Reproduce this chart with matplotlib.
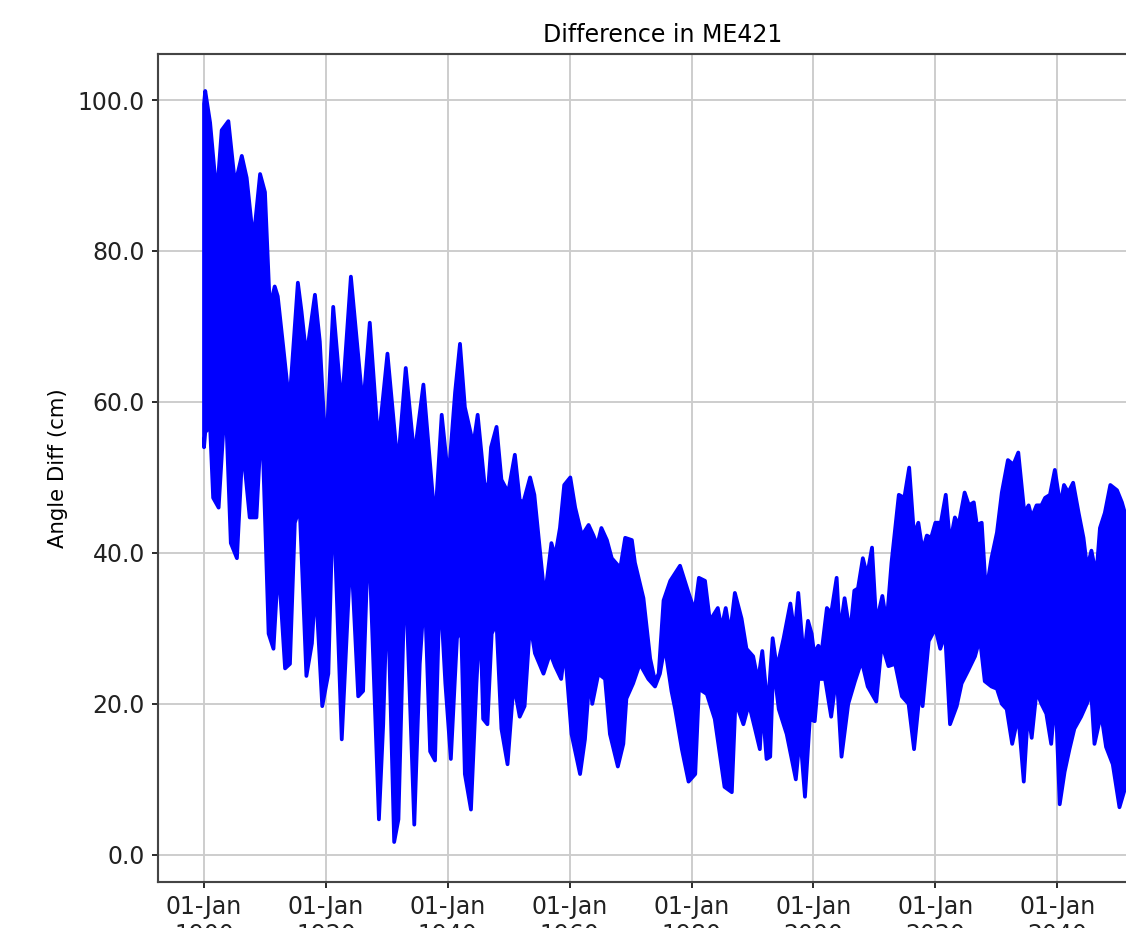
from datetime import datetime, timedelta

import matplotlib

matplotlib.use("Agg")
import matplotlib.dates as mdates
import matplotlib.pyplot as plt

# Envelope of the (densely oscillating) difference series.
upper_year = [
    1900.0, 1900.2, 1901.0, 1902.1, 1902.9, 1904.0, 1905.1, 1906.2, 1907.0, 1908.1,
    1909.2, 1910.0, 1910.8, 1911.6, 1912.1, 1913.0, 1914.0, 1915.4, 1916.0, 1916.8,
    1918.2, 1919.0, 1920.0, 1921.2, 1922.6, 1924.1, 1926.1, 1927.2, 1928.6, 1930.1,
    1931.8, 1933.1, 1934.5, 1936.0, 1937.9, 1939.0, 1940.1, 1941.2, 1942.0, 1942.8,
    1944.2, 1944.9, 1946.0, 1946.6, 1947.1, 1948.0, 1948.8, 1949.9, 1951.0, 1951.8,
    1952.4, 1953.5, 1954.2, 1955.9, 1957.0, 1957.6, 1958.4, 1959.1, 1960.1, 1960.9,
    1962.0, 1963.1, 1963.9, 1964.5, 1965.2, 1966.1, 1966.9, 1968.3, 1969.1, 1970.2,
    1970.7, 1972.1, 1973.2, 1974.0, 1974.6, 1975.4, 1976.5, 1977.3, 1978.1, 1979.5,
    1980.5, 1981.2, 1982.2, 1983.0, 1984.3, 1984.9, 1985.6, 1986.3, 1987.1, 1988.2,
    1989.0, 1990.1, 1990.9, 1991.6, 1992.5, 1993.3, 1994.0, 1995.1, 1996.2, 1996.9,
    1997.5, 1998.4, 1999.1, 1999.7, 2000.1, 2000.8, 2001.3, 2002.2, 2002.9, 2003.8,
    2004.3, 2005.1, 2006.0, 2006.7, 2007.3, 2008.1, 2008.8, 2009.6, 2010.3, 2011.3,
    2012.0, 2012.8, 2014.0, 2014.9, 2015.7, 2016.5, 2017.2, 2017.9, 2018.6, 2019.3,
    2020.0, 2020.9, 2021.7, 2022.4, 2023.2, 2023.8, 2024.8, 2025.5, 2026.3, 2026.8,
    2027.6, 2028.3, 2029.2, 2030.1, 2030.9, 2031.9, 2032.8, 2033.6, 2034.6, 2035.3,
    2035.8, 2036.6, 2037.4, 2038.0, 2038.8, 2039.6, 2040.5, 2041.1, 2041.8, 2042.6,
    2043.5, 2044.3, 2044.9, 2045.6, 2046.4, 2047.0, 2047.8, 2048.7, 2049.8, 2050.6,
    2051.3,
]
upper_val = [
    99.5, 101.2, 97.0, 87.2, 96.0, 97.2, 88.8, 92.6, 89.7, 81.3,
    90.2, 87.8, 72.5, 75.3, 74.0, 67.3, 59.7, 75.8, 72.0, 66.0,
    74.2, 68.0, 52.9, 72.6, 59.2, 76.6, 59.2, 70.5, 54.5, 66.4,
    51.5, 64.5, 52.8, 62.3, 44.0, 58.3, 49.7, 61.3, 67.7, 59.3,
    54.3, 58.3, 49.3, 48.3, 54.0, 56.7, 49.7, 48.0, 53.0, 47.0,
    46.7, 50.0, 47.7, 34.0, 41.3, 39.5, 43.3, 49.0, 50.0, 46.0,
    42.3, 43.7, 42.3, 41.0, 43.3, 41.7, 39.3, 38.0, 42.0, 41.7,
    38.7, 34.0, 26.0, 23.0, 24.0, 33.7, 36.3, 37.3, 38.3, 34.7,
    32.3, 36.7, 36.3, 31.0, 32.7, 30.0, 32.7, 29.3, 34.7, 31.3,
    27.3, 26.3, 23.0, 27.0, 19.3, 28.7, 24.7, 28.7, 33.3, 29.3,
    34.7, 26.0, 31.0, 29.3, 26.7, 27.7, 26.7, 32.7, 32.0, 36.7,
    29.3, 34.0, 29.3, 35.0, 35.3, 39.3, 37.0, 40.7, 30.7, 34.3,
    30.7, 38.7, 47.7, 47.3, 51.3, 42.3, 44.0, 40.3, 42.3, 42.0,
    44.0, 44.0, 47.7, 41.3, 44.7, 43.7, 48.0, 46.3, 46.7, 43.7,
    44.0, 34.7, 39.3, 42.7, 48.0, 52.3, 51.7, 53.3, 45.3, 46.3,
    44.7, 46.3, 46.3, 47.3, 47.7, 51.0, 46.3, 49.0, 48.0, 49.3,
    45.3, 42.0, 38.0, 40.3, 37.0, 43.3, 45.3, 49.0, 48.3, 46.7,
    44.7,
]

lower_year = [
    1900.0, 1900.2, 1901.0, 1901.5, 1902.4, 1903.2, 1903.7, 1904.4, 1905.4, 1906.2,
    1906.7, 1907.5, 1908.6, 1909.2, 1909.7, 1910.6, 1911.4, 1912.2, 1913.3, 1914.1,
    1914.9, 1915.7, 1916.8, 1917.7, 1918.3, 1919.4, 1920.4, 1921.2, 1922.6, 1924.1,
    1925.3, 1926.1, 1927.0, 1928.7, 1929.4, 1930.1, 1931.2, 1931.9, 1933.0, 1934.5,
    1935.4, 1936.2, 1937.1, 1937.9, 1938.7, 1939.6, 1940.5, 1941.5, 1942.2, 1942.8,
    1943.8, 1944.7, 1945.3, 1945.8, 1946.5, 1947.2, 1948.0, 1948.8, 1949.8, 1950.8,
    1951.8, 1952.6, 1953.5, 1954.3, 1955.7, 1956.8, 1957.6, 1958.6, 1959.2, 1960.3,
    1961.7, 1962.5, 1963.3, 1963.7, 1964.7, 1965.8, 1966.6, 1967.9, 1968.8, 1969.3,
    1970.4, 1971.5, 1972.9, 1974.0, 1974.8, 1975.6, 1976.7, 1977.3, 1978.4, 1979.5,
    1980.6, 1981.2, 1982.5, 1983.8, 1985.4, 1986.6, 1987.2, 1988.5, 1989.4, 1990.4,
    1991.2, 1991.6, 1992.3, 1992.9, 1993.4, 1994.3, 1995.6, 1997.1, 1997.8, 1998.6,
    1999.4, 2000.2, 2000.8, 2001.9, 2002.9, 2003.8, 2004.6, 2005.7, 2006.8, 2007.9,
    2008.9, 2010.3, 2011.2, 2012.3, 2013.4, 2014.5, 2015.6, 2016.5, 2017.5, 2017.9,
    2018.9, 2020.0, 2020.8, 2021.6, 2022.4, 2023.5, 2024.3, 2025.3, 2026.5, 2027.3,
    2028.1, 2029.2, 2030.1, 2030.9, 2031.7, 2032.6, 2033.6, 2034.5, 2035.2, 2035.8,
    2036.6, 2037.4, 2038.2, 2039.0, 2039.7, 2040.4, 2041.2, 2042.0, 2042.8, 2043.9,
    2045.0, 2045.3, 2046.1, 2047.2, 2048.0, 2049.1, 2050.2, 2051.3,
]
lower_val = [
    54.0, 56.0, 56.7, 47.3, 46.0, 56.7, 56.7, 41.3, 39.3, 52.0,
    51.3, 44.7, 44.7, 54.0, 52.7, 29.3, 27.3, 38.7, 24.7, 25.3,
    44.0, 46.0, 23.7, 28.0, 36.0, 19.7, 24.0, 48.0, 15.3, 40.7,
    21.0, 21.7, 43.3, 4.7, 17.3, 36.0, 1.7, 4.7, 38.7, 4.0,
    25.3, 35.3, 13.7, 12.5, 36.0, 22.7, 12.7, 28.7, 30.0, 10.7,
    6.0, 22.7, 32.0, 18.0, 17.3, 29.3, 30.7, 16.7, 12.0, 22.7,
    18.3, 19.7, 30.7, 26.7, 24.0, 26.7, 25.0, 23.3, 27.3, 16.0,
    10.7, 15.3, 24.0, 20.0, 24.0, 23.3, 16.0, 11.7, 14.7, 20.7,
    22.7, 25.3, 23.3, 22.3, 24.0, 27.7, 21.7, 19.3, 14.0, 9.7,
    10.7, 22.0, 21.3, 18.0, 9.0, 8.3, 20.3, 17.3, 20.0, 16.7,
    14.0, 20.0, 12.7, 13.0, 25.3, 19.3, 16.0, 10.0, 16.0, 7.7,
    18.0, 17.7, 23.3, 23.3, 18.3, 24.0, 13.0, 20.0, 23.0, 25.7,
    22.3, 20.3, 28.0, 25.0, 25.3, 21.0, 20.0, 14.0, 22.0, 19.7,
    28.3, 30.0, 27.3, 29.3, 17.3, 19.7, 22.7, 24.3, 26.3, 28.7,
    23.0, 22.3, 22.0, 20.0, 19.3, 14.7, 18.5, 9.7, 19.0, 15.5,
    21.7, 20.0, 18.7, 14.7, 21.3, 6.7, 11.0, 14.0, 16.7, 18.3,
    20.3, 24.7, 14.7, 18.7, 14.3, 12.0, 6.3, 9.3,
]

x_limits = (1892.45, 2058.0)
y_limits = (-3.6, 106.1)


def to_datenum(years: list[float]) -> list[float]:
    out = []
    for y in years:
        base = int(y)
        d = datetime(base, 1, 1) + timedelta(days=(y - base) * 365.25)
        out.append(mdates.date2num(d))
    return out


def main() -> None:
    plt.rcParams["font.family"] = ["DejaVu Sans"]
    plt.rcParams["font.size"] = 10

    fig = plt.figure(figsize=(1126 / 170, 928 / 170), dpi=170)
    ax = fig.add_axes([158 / 1126, 46 / 928, (1167 - 158) / 1126, (882 - 54) / 928])

    xs = to_datenum(upper_year) + to_datenum(lower_year)[::-1]
    ys = upper_val + lower_val[::-1]
    ax.fill(xs, ys, facecolor="blue", edgecolor="blue", linewidth=1.6,
            joinstyle="round", zorder=2)

    lo, hi = to_datenum(list(x_limits))
    ax.set_xlim(lo, hi)
    ax.set_ylim(*y_limits)
    ax.xaxis.set_major_locator(mdates.YearLocator(20))
    ax.xaxis.set_major_formatter(mdates.DateFormatter("%d-%b\n%Y"))
    ax.set_yticks([0, 20, 40, 60, 80, 100])
    ax.yaxis.set_major_formatter(matplotlib.ticker.FormatStrFormatter("%.1f"))

    ax.grid(True, color="#cccccc", linewidth=0.8, zorder=0)
    ax.set_axisbelow(True)
    for side in ("left", "bottom", "top", "right"):
        ax.spines[side].set_color("#444444")
        ax.spines[side].set_linewidth(0.9)
    ax.tick_params(length=2.5, width=0.8, pad=3, colors="#222222")

    ax.set_title("Difference in ME421", fontsize=10, pad=5)
    ax.set_ylabel("Angle Diff (cm)", fontsize=9)

    fig.savefig("out.png", dpi=170)
    plt.close(fig)


if __name__ == "__main__":
    main()
